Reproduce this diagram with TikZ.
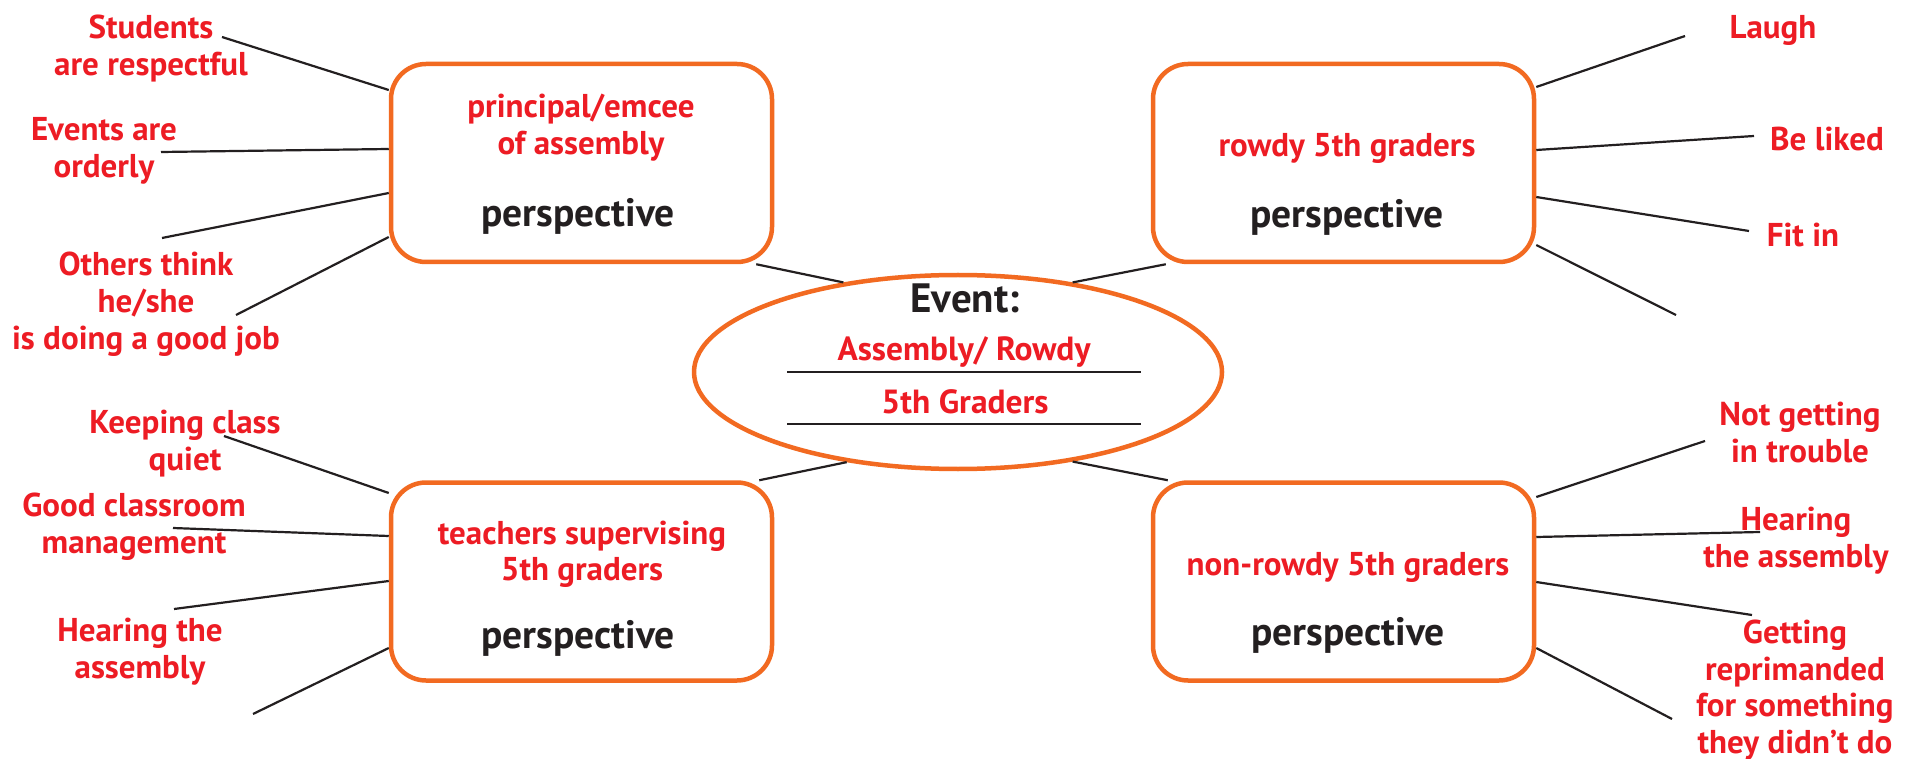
\documentclass[tikz,border=0pt]{standalone}
\usepackage{fontspec}
\setmainfont{PT Sans}
\usetikzlibrary{shapes.geometric}
\definecolor{org}{HTML}{F26A21}
\definecolor{rd}{HTML}{ED1C24}
\definecolor{blk}{HTML}{231F20}
\begin{document}
\begin{tikzpicture}[x=1pt,y=-1pt,
  pbox/.style={draw=org,line width=4.5pt,rounded corners=35pt,minimum width=381pt,minimum height=198pt,inner sep=0pt},
  conn/.style={draw=blk,line width=2.2pt},
  lbl/.style={text=rd,font=\fontsize{33}{37}\selectfont\bfseries,align=center,anchor=north,inner sep=0pt},
  boxtxt/.style={text=rd,font=\fontsize{33}{37}\selectfont\bfseries,anchor=base,inner sep=0pt},
  persp/.style={text=blk,font=\fontsize{39.5}{44}\selectfont\bfseries,anchor=base,inner sep=0pt},
  evtxt/.style={text=rd,font=\fontsize{33.5}{37}\selectfont\bfseries,anchor=base,inner sep=0pt}]
\useasboundingbox[fill=white] (0,0) rectangle (1915,759);
% boxes
\node[pbox] (tl) at (581.5,163) {};
\node[pbox] (tr) at (1343.5,163) {};
\node[pbox] (bl) at (581.5,581.5) {};
\node[pbox] (br) at (1343.5,581.5) {};
% ellipse
\node[ellipse,draw=org,line width=4.5pt,minimum width=528pt,minimum height=194pt,inner sep=0pt] (ev) at (958,372) {};
% box texts
\node[boxtxt] (tlt1) at (581,118) {principal/emcee};
\node[boxtxt] (tlt2) at (581,155) {of assembly};
\node[persp] (tlp) at (578,227) {perspective};
\node[boxtxt] (trt1) at (1347,157) {rowdy 5th graders};
\node[persp] (trp) at (1347,228) {perspective};
\node[boxtxt] (blt1) at (582,544) {teachers supervising};
\node[boxtxt] (blt2) at (582,580) {5th graders};
\node[persp] (blp) at (578,648) {perspective};
\node[boxtxt] (brt1) at (1348,575) {non-rowdy 5th graders};
\node[persp] (brp) at (1348,645) {perspective};
% ellipse texts
\node[text=blk,font=\fontsize{41}{44}\selectfont\bfseries,anchor=base,inner sep=0pt] (evt) at (965,313) {Event:};
\node[evtxt] (eva) at (964,360) {Assembly/ Rowdy};
\node[evtxt] (evb) at (965,413) {5th Graders};
\coordinate (u1a) at (787,372); \coordinate (u1b) at (1141,372);
\coordinate (u2a) at (787,424); \coordinate (u2b) at (1141,424);
\draw[blk,line width=1.2pt] (u1a) -- (u1b);
\draw[blk,line width=1.2pt] (u2a) -- (u2b);
% labels
\node[lbl] (l1) at (151,15) {Students\\are respectful};
\node[lbl] (l2) at (104,117) {Events are\\orderly};
\node[lbl] (l3) at (146,252) {Others think\\he/she\\is doing a good job};
\node[lbl] (r1) at (1773,15) {Laugh};
\node[lbl] (r2) at (1827,127) {Be liked};
\node[lbl] (r3) at (1803,223) {Fit in};
\node[lbl] (b1) at (185,410) {Keeping class\\quiet};
\node[lbl] (b2) at (134,493) {Good classroom\\management};
\node[lbl] (b3) at (140,618) {Hearing the\\assembly};
\node[lbl] (s1) at (1800,402) {Not getting\\in trouble};
\node[lbl] (s2) at (1796,507) {Hearing\\the assembly};
\node[lbl,font=\fontsize{33}{36.5}\selectfont\bfseries] (s3) at (1795,620) {Getting\\reprimanded\\for something\\they didn’t do};
% free ends
\coordinate (ca1) at (222,37);  \coordinate (ca2) at (161,152);
\coordinate (ca3) at (162,238); \coordinate (ca4) at (236,315);
\coordinate (cb1) at (1685,36); \coordinate (cb2) at (1754,136);
\coordinate (cb3) at (1749,231); \coordinate (cb4) at (1676,315);
\coordinate (cc1) at (224,436); \coordinate (cc2) at (173,528);
\coordinate (cc3) at (174,609); \coordinate (cc4) at (253,714);
\coordinate (cd1) at (1705,441); \coordinate (cd2) at (1760,532);
\coordinate (cd3) at (1752,615); \coordinate (cd4) at (1672,719);
% spokes
\draw[conn] (tl.west |- 0,90) -- (ca1);
\draw[conn] (tl.west |- 0,149) -- (ca2);
\draw[conn] (tl.west |- 0,193) -- (ca3);
\draw[conn] (tl.west |- 0,237) -- (ca4);
\draw[conn] (tr.east |- 0,87) -- (cb1);
\draw[conn] (tr.east |- 0,150) -- (cb2);
\draw[conn] (tr.east |- 0,197) -- (cb3);
\draw[conn] (tr.east |- 0,245) -- (cb4);
\draw[conn] (bl.west |- 0,493) -- (cc1);
\draw[conn] (bl.west |- 0,536) -- (cc2);
\draw[conn] (bl.west |- 0,581) -- (cc3);
\draw[conn] (bl.west |- 0,648) -- (cc4);
\draw[conn] (br.east |- 0,497) -- (cd1);
\draw[conn] (br.east |- 0,537) -- (cd2);
\draw[conn] (br.east |- 0,582) -- (cd3);
\draw[conn] (br.east |- 0,648) -- (cd4);
% box to ellipse
\draw[conn] ([xshift=-18pt]tl.south east) -- (ev.142);
\draw[conn] ([xshift=15pt]tr.south west) -- (ev.38);
\draw[conn] ([xshift=-15pt]bl.north east) -- (ev.219);
\draw[conn] ([xshift=17pt]br.north west) -- (ev.322);
\end{tikzpicture}
\end{document}
